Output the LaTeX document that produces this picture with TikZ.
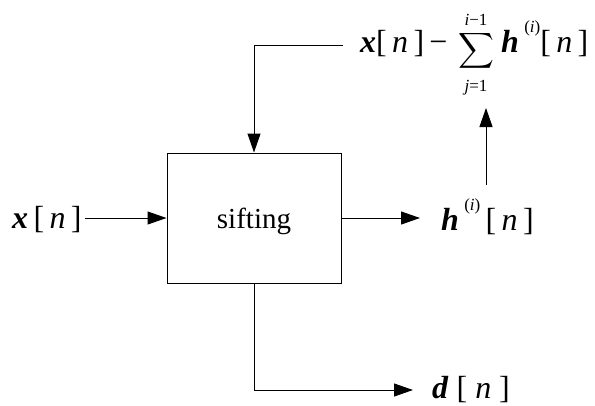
\documentclass[tikz,border=0pt]{standalone}
\usepackage{amsmath}
\usepackage{fontspec}
\setmainfont{Liberation Serif}[ItalicFont={Liberation Serif Italic},BoldItalicFont={Liberation Serif Bold Italic},BoldFont={Liberation Serif Bold}]
\usetikzlibrary{arrows.meta}
\newcommand{\supi}{\raisebox{20pt}{\fontsize{17}{20}\selectfont(\textit{i})}}
\begin{document}
\begin{tikzpicture}[x=1pt,y=-1pt,
  conn/.style={line width=1pt,-{Triangle[length=19pt,width=13pt]}},
  lbl/.style={inner sep=0pt,font=\fontsize{32}{38}\selectfont},
  siftfont/.style={inner sep=0pt,font=\fontsize{29}{34}\selectfont},
  lim/.style={inner sep=0pt,font=\fontsize{17}{20}\selectfont},
  blockbox/.style={draw,line width=1pt,minimum width=174pt,minimum height=130pt,inner sep=0pt}]
\useasboundingbox (0,0) rectangle (595,405);
% block
\node[blockbox] (box) at (254,218) {};
\node[siftfont] (sift) at (254,221) {sifting};
% input
\node[lbl,anchor=base west] (xin) at (12,228) {\textbf{\textit{x}}\,[\,\textit{n}\,]};
\coordinate (xinend) at (85,218);
\draw[conn] (xinend) -- (box.west);
% output h
\node[lbl,anchor=base west] (hout) at (441,230) {\textbf{\textit{h}}\,\supi\,[\,\textit{n}\,]};
\coordinate (hin) at (420,218);
\draw[conn] (box.east |- hin) -- (hin);
% up arrow
\coordinate (up1) at (486,185);
\coordinate (up2) at (486,108);
\draw[conn] (up1) -- (up2);
% top formula
\node[lbl,anchor=base west] (fx) at (360,52) {\textbf{\textit{x}}[\,\textit{n}\,]\,−};
\node[inner sep=0pt,font=\fontsize{24}{24}\selectfont,anchor=base] (sig) at (476,57) {$\displaystyle\vphantom{x}\smash{\sum}$};
\node[lim,anchor=base] (sup) at (476,25) {\textit{i}−1};
\node[lim,anchor=base] (sub) at (476,91) {\textit{j}=1};
\node[lbl,anchor=base west] (fh) at (501,52) {\textbf{\textit{h}}\,\supi[\,\textit{n}\,]};
% feedback
\coordinate (fb) at (343,45);
\draw[conn] (fb) -- (box.north |- fb) -- (box.north);
% bottom output
\coordinate (dend) at (413,390);
\draw[conn] (box.south) -- (box.south |- dend) -- (dend);
\node[lbl,anchor=base west] (dout) at (432,398) {\textbf{\textit{d}}\hspace{8pt}[\hspace{8pt}\textit{n}\hspace{8pt}]};
\end{tikzpicture}
\end{document}
